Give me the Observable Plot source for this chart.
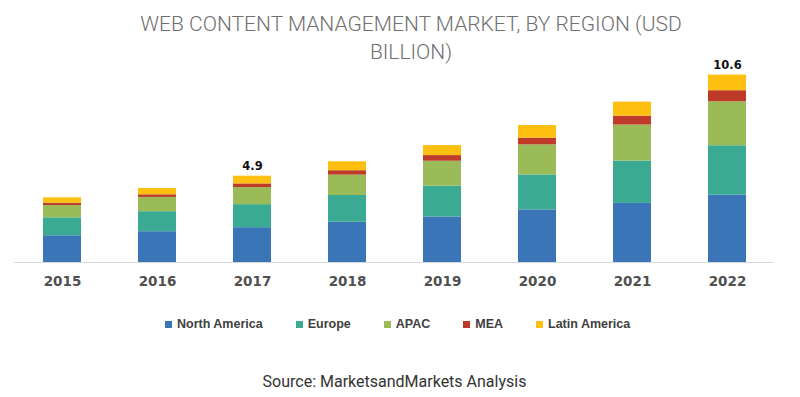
<!DOCTYPE html>
<html>
<head>
<meta charset="utf-8">
<script src="https://cdn.jsdelivr.net/npm/d3@7"></script>
<script src="https://cdn.jsdelivr.net/npm/@observablehq/plot@0.6"></script>
<style>
  html, body { margin: 0; padding: 0; background: #fff; }
  #wrap { position: relative; width: 800px; height: 397px; overflow: hidden; }
  #title { position: absolute; top: 10px; left: 22px; width: 778px; text-align: center;
    font-family: Roboto, "Open Sans", sans-serif; font-weight: 300; font-size: 21px; line-height: 28px; color: #707070; }
  #chart { position: absolute; top: 0; left: 0; }
  #legend { position: absolute; top: 316px; left: 165px; display: flex; gap: 33px; align-items: center;
    font-family: "Liberation Sans", Arial, sans-serif; font-weight: bold; font-size: 12.5px; color: #404040; line-height: 16px; }
  #legend .item { display: flex; align-items: center; }
  #legend .sw { width: 7px; height: 7px; margin-right: 5px; }
  #source { position: absolute; top: 373px; left: 0; width: 789px; text-align: center;
    font-family: Roboto, "Liberation Sans", sans-serif; font-size: 16px; color: #333; line-height: 18px; }
</style>
</head>
<body>
<div id="wrap">
  <div id="title">WEB CONTENT MANAGEMENT MARKET, BY REGION (USD<br>BILLION)</div>
  <div id="chart"></div>
  <div id="legend"></div>
  <div id="source">Source: MarketsandMarkets Analysis</div>
</div>
<script>
const years = ["2015", "2016", "2017", "2018", "2019", "2020", "2021", "2022"];
const regions = ["North America", "Europe", "APAC", "MEA", "Latin America"];
const colors = ["#3a75b7", "#3aaa92", "#9bbb59", "#be3a29", "#fdc010"];
const northAmerica = [1.52, 1.75, 1.98, 2.29, 2.59, 2.99, 3.36, 3.83];
const europe       = [1.02, 1.14, 1.31, 1.52, 1.75, 1.99, 2.41, 2.81];
const apac         = [0.70, 0.81, 0.97, 1.16, 1.42, 1.71, 2.05, 2.50];
const mea          = [0.13, 0.15, 0.21, 0.25, 0.32, 0.38, 0.50, 0.63];
const latinAmerica = [0.31, 0.36, 0.44, 0.51, 0.57, 0.72, 0.80, 0.89];
const labelYears  = ["2017", "2022"];
const labelValues = ["4.9", "10.6"];

const series = [northAmerica, europe, apac, mea, latinAmerica];
const table = [];
series.forEach((vals, i) => vals.forEach((v, j) => table.push({year: years[j], region: regions[i], value: v})));
const totals = years.map((y, j) => series.reduce((s, vals) => s + vals[j], 0));
const labels = labelYears.map((y, k) => ({year: y, total: totals[years.indexOf(y)], text: labelValues[k]}));

const plot = Plot.plot({
  width: 800,
  height: 300,
  marginTop: 51,
  marginBottom: 38,
  marginLeft: 14,
  marginRight: 26,
  style: {background: "transparent"},
  x: {domain: years, paddingInner: 0.6, paddingOuter: 0.3, label: null},
  y: {domain: [0, 12], axis: null},
  color: {domain: regions, range: colors},
  marks: [
    Plot.ruleY([0], {stroke: "#d9d9d9", strokeWidth: 1}),
    Plot.barY(table, {x: "year", y: "value", fill: "region", order: regions, inset: 0}),
    Plot.axisX({tickSize: 0, tickPadding: 14, fontSize: 13.5, fontWeight: "bold",
      fontFamily: "DejaVu Sans", fill: "#505050"}),
    Plot.text(labels, {x: "year", y: "total", text: "text", dy: -10, fontSize: 11.5,
      fontWeight: "bold", fontFamily: "DejaVu Sans", fill: "#111"})
  ]
});
document.getElementById("chart").appendChild(plot);

const legend = document.getElementById("legend");
regions.forEach((r, i) => {
  const item = document.createElement("div");
  item.className = "item";
  const sw = document.createElement("span");
  sw.className = "sw";
  sw.style.background = colors[i];
  const t = document.createElement("span");
  t.textContent = r;
  item.appendChild(sw);
  item.appendChild(t);
  legend.appendChild(item);
});
</script>
</body>
</html>
